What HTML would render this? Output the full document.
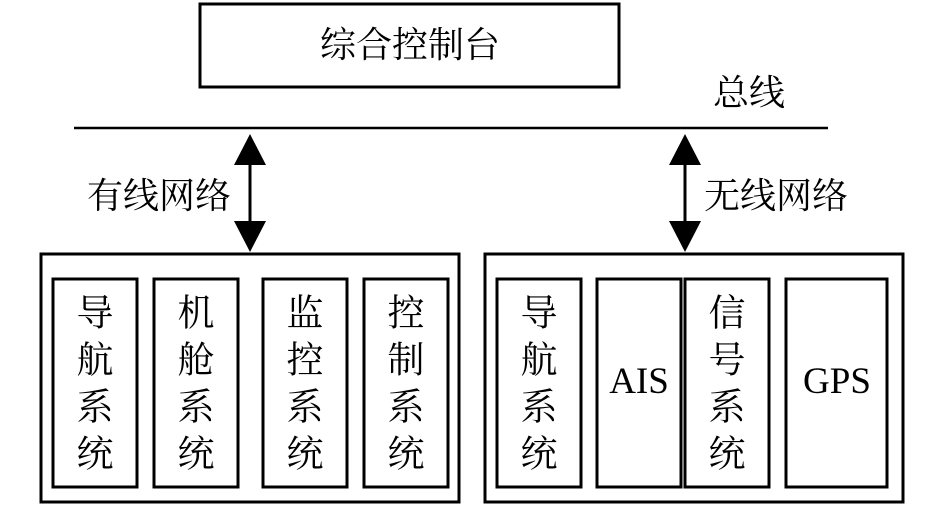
<!DOCTYPE html>
<html><head><meta charset="utf-8"><style>
html,body{margin:0;padding:0;background:#fff;}
svg{display:block;}
text{font-family:"Liberation Serif","Noto Serif CJK SC","Noto Sans CJK SC",serif;fill:#000;}
</style></head><body>
<svg width="945" height="506" viewBox="0 0 945 506" xmlns="http://www.w3.org/2000/svg">
<g fill="none" stroke="#000" stroke-width="3">
<rect x="200" y="4" width="419" height="83"/>
<rect x="41" y="254" width="418" height="248"/>
<rect x="53" y="279" width="84" height="208"/>
<rect x="154" y="279" width="84" height="208"/>
<rect x="263" y="279" width="84" height="208"/>
<rect x="364" y="279" width="84" height="208"/>
<rect x="485" y="254" width="418" height="248"/>
<rect x="497" y="279" width="84" height="208"/>
<rect x="597" y="279" width="84" height="208"/>
<rect x="685" y="279" width="84" height="208"/>
<rect x="786" y="279" width="101" height="208"/>
</g>
<line x1="74" y1="128" x2="828" y2="128" stroke="#000" stroke-width="2.5"/>
<g stroke="#000" stroke-width="3"><line x1="250" y1="150" x2="250" y2="236"/><line x1="685" y1="150" x2="685" y2="236"/></g>
<g fill="#000">
<polygon points="250,134 234,165 266,165"/><polygon points="250,252 234,221 266,221"/>
<polygon points="685,134 669,165 701,165"/><polygon points="685,252 669,221 701,221"/>
</g>
<g font-size="36" text-anchor="middle" dominant-baseline="central">
<text x="410" y="45">综合控制台</text>
<text x="749" y="93">总线</text>
<text x="159" y="196">有线网络</text>
<text x="776" y="196">无线网络</text>
</g>
<g font-size="37" text-anchor="middle" dominant-baseline="central">
<text x="95" y="314">导</text><text x="95" y="361">航</text><text x="95" y="408">系</text><text x="95" y="455">统</text>
<text x="196" y="314">机</text><text x="196" y="361">舱</text><text x="196" y="408">系</text><text x="196" y="455">统</text>
<text x="305" y="314">监</text><text x="305" y="361">控</text><text x="305" y="408">系</text><text x="305" y="455">统</text>
<text x="406" y="314">控</text><text x="406" y="361">制</text><text x="406" y="408">系</text><text x="406" y="455">统</text>
<text x="539" y="314">导</text><text x="539" y="361">航</text><text x="539" y="408">系</text><text x="539" y="455">统</text>
<text x="727" y="314">信</text><text x="727" y="361">号</text><text x="727" y="408">系</text><text x="727" y="455">统</text>
</g>
<g font-size="37" text-anchor="middle">
<text x="639" y="393">AIS</text>
<text x="837" y="393">GPS</text>
</g>
</svg>
</body></html>
